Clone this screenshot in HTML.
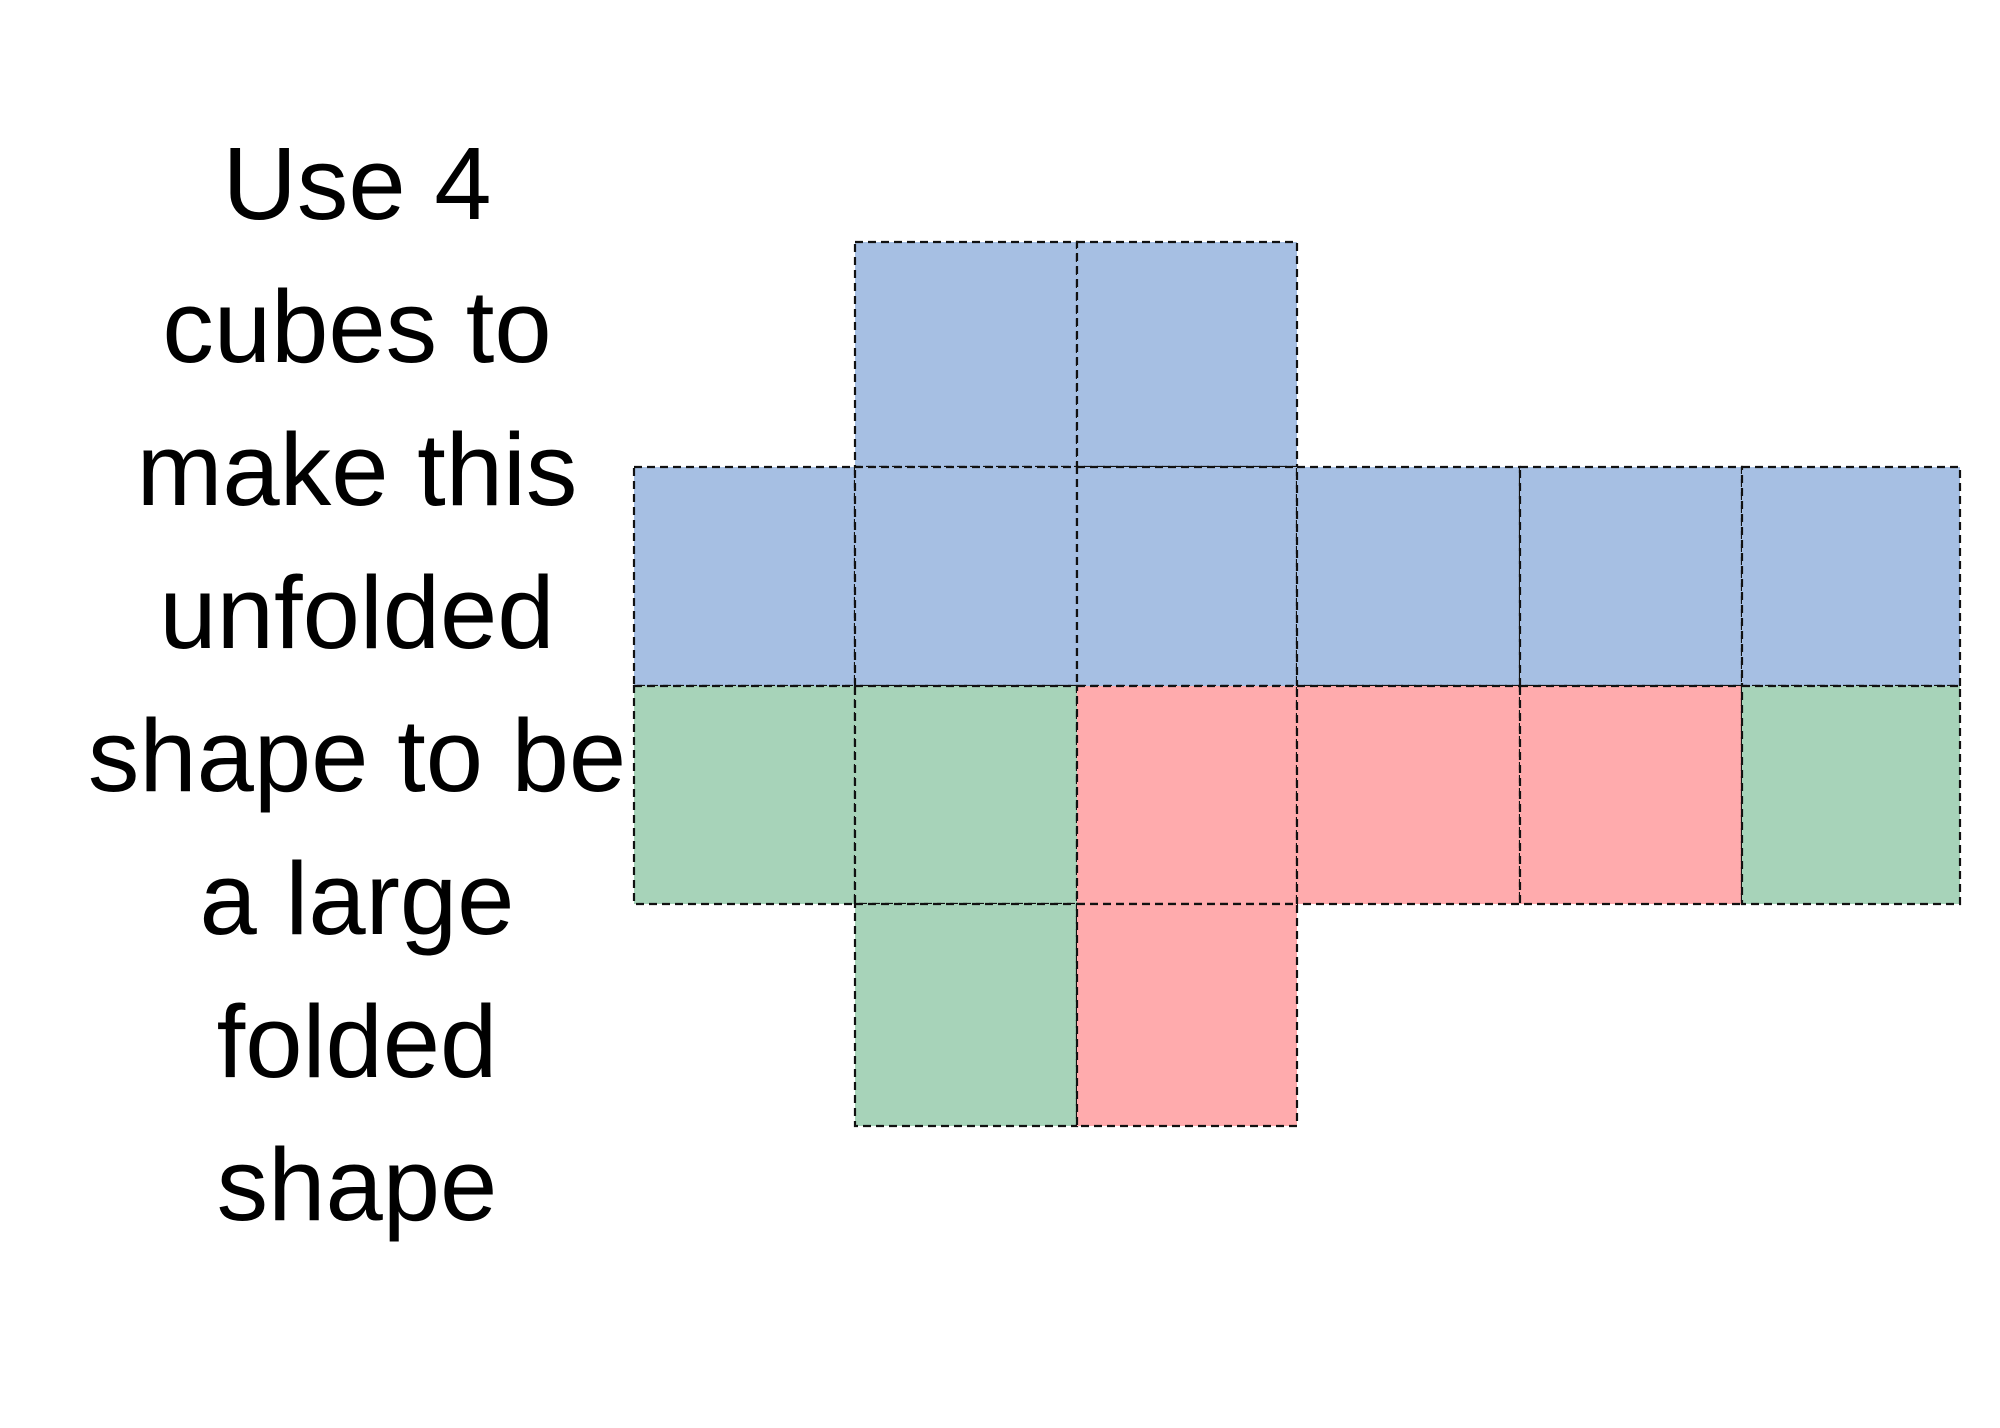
<!DOCTYPE html>
<html><head><meta charset="utf-8"><style>
html,body{margin:0;padding:0;background:#fff;width:2000px;height:1428px;overflow:hidden}
svg{display:block}
</style></head><body>
<svg width="2000" height="1428">
<g id="text" font-family="Liberation Sans, sans-serif" font-size="103" text-anchor="middle" fill="#000">
<text x="357" y="219">Use 4</text>
<text x="357" y="362">cubes to</text>
<text x="357" y="505">make this</text>
<text x="357" y="648">unfolded</text>
<text x="357" y="791">shape to be</text>
<text x="357" y="934">a large</text>
<text x="357" y="1077">folded</text>
<text x="357" y="1220">shape</text>
</g>
<g id="cells"></g>
</svg>
<script>
const colX=[634,855,1077,1297,1520,1742,1960];
const rowY=[242,467,686,904,1126];
const cellRows=[0,0,1,1,1,1,1,1,2,2,2,2,2,2,3,3];
const cellCols=[1,2,0,1,2,3,4,5,0,1,2,3,4,5,1,2];
const cellColors=['b','b','b','b','b','b','b','b','g','g','r','r','r','g','g','r'];
const fills={b:'#a6bfe3',g:'#a7d3b9',r:'#ffabad'};
const g=document.getElementById('cells');
const ns='http://www.w3.org/2000/svg';
for(let i=0;i<cellRows.length;i++){
  const r=document.createElementNS(ns,'rect');
  const c=cellCols[i],w=cellRows[i];
  r.setAttribute('x',colX[c]);r.setAttribute('y',rowY[w]);
  r.setAttribute('width',colX[c+1]-colX[c]);r.setAttribute('height',rowY[w+1]-rowY[w]);
  r.setAttribute('fill',fills[cellColors[i]]);
  r.setAttribute('stroke','#111');r.setAttribute('stroke-width','2.2');
  r.setAttribute('stroke-dasharray','8 5');
  
  
  g.appendChild(r);
}
</script>
</body></html>
